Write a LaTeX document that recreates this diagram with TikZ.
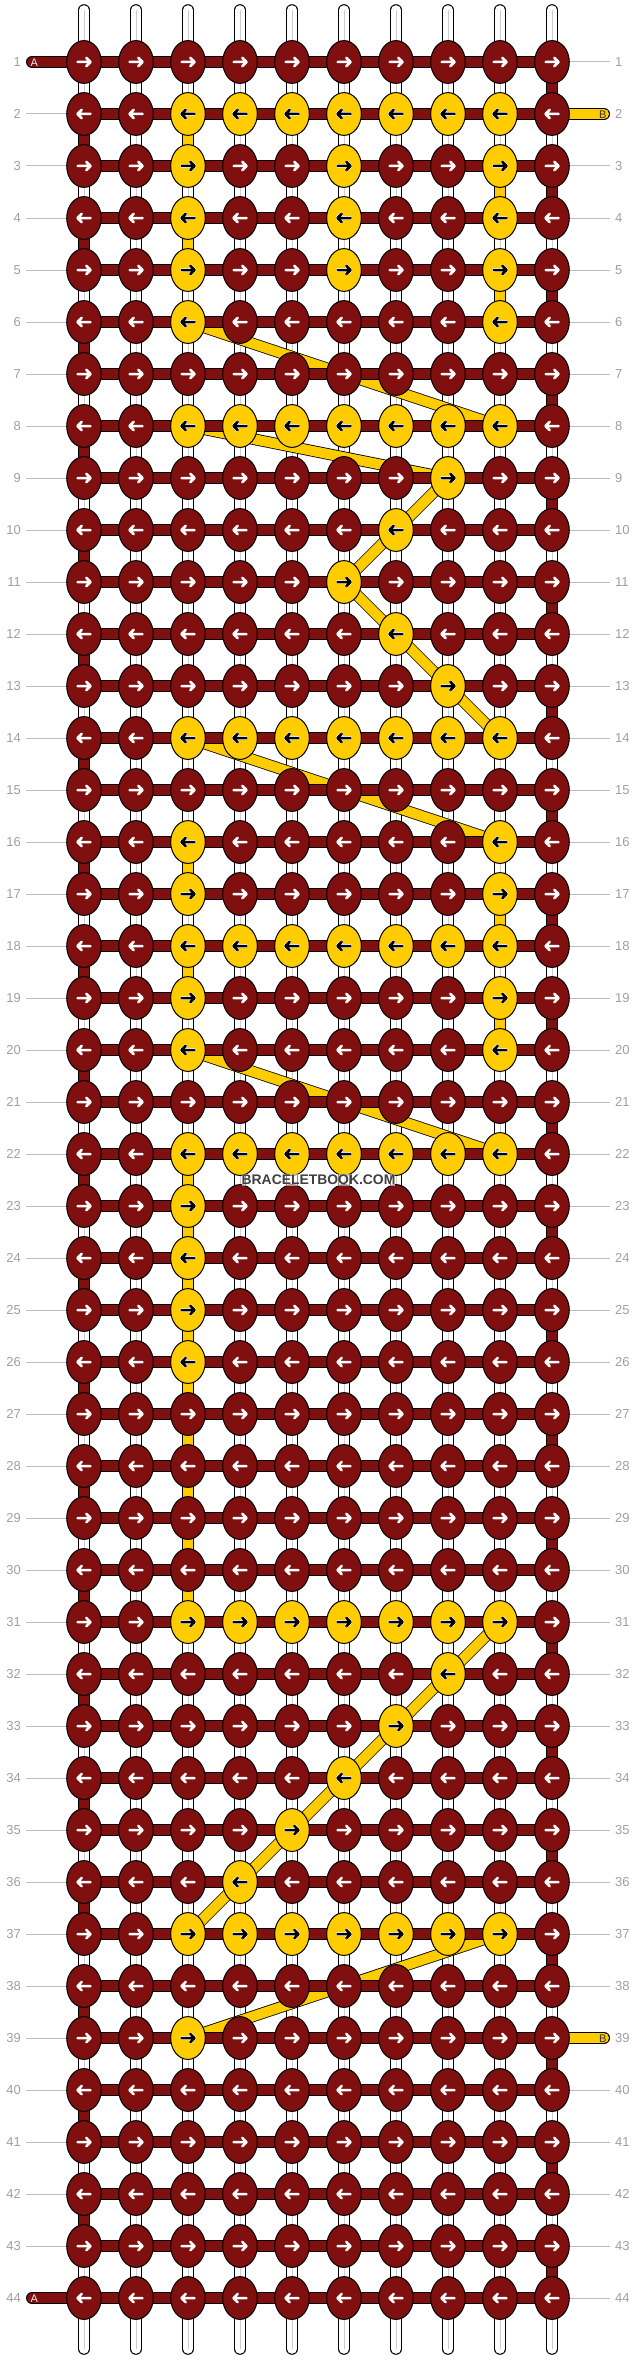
\documentclass[tikz,border=0pt]{standalone}
\usepackage{fontspec}
\setmainfont{Liberation Sans}
\usetikzlibrary{shapes.geometric}
\pgfdeclarelayer{warp}\pgfdeclarelayer{ribbon}\pgfdeclarelayer{weft}
\pgfsetlayers{warp,ribbon,weft,main}
\definecolor{maroon}{HTML}{800F0F}
\definecolor{gold}{HTML}{FFCC00}
\definecolor{lbl}{HTML}{A0A0A0}
\definecolor{tick}{HTML}{BDBDBD}
\definecolor{thread}{HTML}{CCCCCC}
\newcommand\ycells[2]{\foreach \cc in {#2}{\expandafter\gdef\csname y#1-\cc\endcsname{1}}}
\ycells{2}{3,...,9}\ycells{3}{3,6,9}\ycells{4}{3,6,9}\ycells{5}{3,6,9}\ycells{6}{3,9}
\ycells{8}{3,...,9}\ycells{9}{8}\ycells{10}{7}\ycells{11}{6}\ycells{12}{7}\ycells{13}{8}
\ycells{14}{3,...,9}\ycells{16}{3,9}\ycells{17}{3,9}\ycells{18}{3,...,9}\ycells{19}{3,9}\ycells{20}{3,9}
\ycells{22}{3,...,9}\ycells{23}{3}\ycells{24}{3}\ycells{25}{3}\ycells{26}{3}
\ycells{31}{3,...,9}\ycells{32}{8}\ycells{33}{7}\ycells{34}{6}\ycells{35}{5}\ycells{36}{4}
\ycells{37}{3,...,9}\ycells{39}{3}
\tikzset{
  knot/.style={ellipse,draw=black,line width=1pt,minimum width=34.6pt,minimum height=42.8pt,inner sep=0pt,outer sep=0pt},
  strand/.style={line width=1pt,double=#1,double distance=10pt},
  ribbonband/.style={line width=.8pt,double=gold,double distance=10pt},
  warpband/.style={line width=1pt,double=white,double distance=9.6pt,line cap=round},
  warpthread/.style={line width=.9pt,draw=thread},
  ticksty/.style={line width=1pt,draw=tick},
  rowlbl/.style={font=\fontsize{13}{14}\selectfont,text=lbl,inner sep=0pt},
  tagsty/.style={font=\fontsize{11}{12}\selectfont,inner sep=0pt},
  arrowsty/.style={line width=2.5pt,line join=round,line cap=round},
  halosty/.style={line width=3.6pt,line join=round,line cap=round,draw=white}
}
\newcommand\arrowat[3]{% node, direction (+1/-1), colour
  \draw[#3,shift={(#1.center)}] ({-6.5*#2},0) -- ({6.5*#2},0) ({2.3*#2},-4.2) -- ({6.5*#2},0) -- ({2.3*#2},4.2);
}
\begin{document}
\begin{tikzpicture}[x=1pt,y=-1pt]
\useasboundingbox (0,0) rectangle (636,2360);
\foreach \r in {1,...,44}{
  \pgfmathtruncatemacro\yy{62+52*(\r-1)}
  \foreach \c in {1,...,10}{
    \pgfmathtruncatemacro\xx{32+52*\c}
    \ifcsname y\r-\c\endcsname\def\kc{gold}\else\def\kc{maroon}\fi
    \node[knot,fill=\kc] (k-\r-\c) at (\xx,\yy) {};
  }
  \node[rowlbl,anchor=east] (ll-\r) at (21,\yy) {\r};
  \node[rowlbl,anchor=west] (rl-\r) at (615,\yy) {\r};
  \coordinate (tl-\r) at (26,\yy);
  \coordinate (tr-\r) at (610,\yy);
  \coordinate (el-\r) at (32,\yy);
  \coordinate (er-\r) at (604,\yy);
}
\foreach \c in {1,...,10}{
  \pgfmathtruncatemacro\xx{32+52*\c}
  \coordinate (top-\c) at (\xx,10);
  \coordinate (bot-\c) at (\xx,2349);
}
\begin{pgfonlayer}{warp}
  \fill[white] (0,0) rectangle (636,2360);
  \foreach \c in {1,...,10}{
    \draw[warpband] (top-\c) -- (bot-\c);
    \draw[warpthread] (top-\c) -- (bot-\c);
  }
  % maroon turns at the edges
  \foreach \r in {2,4,...,42}{
    \pgfmathtruncatemacro\n{\r+1}
    \draw[strand=maroon] (k-\r-1.center) -- (k-\n-1.center);
  }
  \foreach \r in {1,3,...,43}{
    \pgfmathtruncatemacro\n{\r+1}
    \draw[strand=maroon] (k-\r-10.center) -- (k-\n-10.center);
  }
  % gold turns
  \foreach \r in {2,4,16,18,22,23,24,25,26,27,28,29,30}{
    \pgfmathtruncatemacro\n{\r+1}
    \draw[strand=gold] (k-\r-3.center) -- (k-\n-3.center);
  }
  \foreach \r in {3,5,17,19}{
    \pgfmathtruncatemacro\n{\r+1}
    \draw[strand=gold] (k-\r-9.center) -- (k-\n-9.center);
  }
\end{pgfonlayer}
\begin{pgfonlayer}{ribbon}
  \draw[ribbonband] (k-6-3.center) -- (k-8-9.center);
  \draw[ribbonband] (k-8-3.center) -- (k-9-8.center);
  \draw[ribbonband] (k-9-8.center) -- (k-11-6.center);
  \draw[ribbonband] (k-11-6.center) -- (k-14-9.center);
  \draw[ribbonband] (k-14-3.center) -- (k-16-9.center);
  \draw[ribbonband] (k-20-3.center) -- (k-22-9.center);
  \draw[ribbonband] (k-31-9.center) -- (k-37-3.center);
  \draw[ribbonband] (k-37-9.center) -- (k-39-3.center);
\end{pgfonlayer}
\begin{pgfonlayer}{weft}
  \foreach \r in {1,...,44}{
    \draw[strand=maroon] (k-\r-1.center) -- (k-\r-10.center);
  }
  \foreach \r in {2,...,43}{\draw[ticksty] (tl-\r) -- (k-\r-1.center);}
  \foreach \r in {1,3,4,...,38,40,41,42,43,44}{\draw[ticksty] (k-\r-10.center) -- (tr-\r);}
  \draw[strand=maroon,line cap=round] (el-1) -- (k-1-1.center);
  \draw[strand=maroon,line cap=round] (el-44) -- (k-44-1.center);
  \draw[strand=gold,line cap=round] (k-2-10.center) -- (er-2);
  \draw[strand=gold,line cap=round] (k-39-10.center) -- (er-39);
\end{pgfonlayer}
\node[tagsty,text=white!90!maroon] (a1) at (34.3,62.3) {A};
\node[tagsty,text=white!90!maroon] (a44) at (34.3,2298.3) {A};
\node[tagsty,text=black!80] (b2) at (602.7,114.3) {B};
\node[tagsty,text=black!80] (b39) at (602.7,2038.3) {B};
\foreach \r in {1,...,44}{
  \pgfmathtruncatemacro\dr{ifthenelse(mod(\r,2)==1,1,-1)}
  \foreach \c in {1,...,10}{
    \ifcsname y\r-\c\endcsname
      \arrowat{k-\r-\c}{\dr}{halosty}
      \arrowat{k-\r-\c}{\dr}{arrowsty,draw=black}
    \else
      \arrowat{k-\r-\c}{\dr}{arrowsty,draw=white}
    \fi
  }
}
\node[font=\bfseries\fontsize{13.9}{15}\selectfont,text=black!75,fill=white,fill opacity=.55,text opacity=1,inner sep=0pt,minimum height=12pt,text height=10pt,text depth=1pt] (wm) at (318.5,1180) {BRACELETBOOK.COM};
\end{tikzpicture}
\end{document}
